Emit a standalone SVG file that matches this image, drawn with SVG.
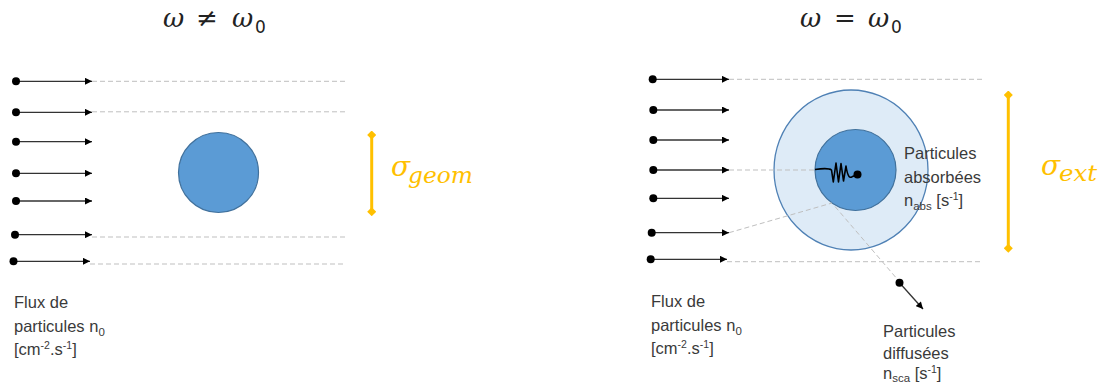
<svg xmlns="http://www.w3.org/2000/svg" width="1104" height="385" viewBox="0 0 1104 385">
<defs>
<marker id="ah" viewBox="0 0 10 10" refX="10" refY="5" markerWidth="8" markerHeight="7" markerUnits="userSpaceOnUse" orient="auto">
<path d="M0,0 L10,5 L0,10 Z" fill="#000"/>
</marker>
<marker id="dia" viewBox="0 0 10 10" refX="5" refY="5" markerWidth="9" markerHeight="9" markerUnits="userSpaceOnUse" orient="auto">
<path d="M0,5 L5,0 L10,5 L5,10 Z" fill="#FFC000"/>
</marker>
<style>
.arr{stroke:#333;stroke-width:1.3;fill:none;marker-end:url(#ah)}
.dot{fill:#000}
.dash{stroke:#BFBFBF;stroke-width:1;stroke-dasharray:5 3;fill:none}
.ora{stroke:#FFC000;stroke-width:3;marker-start:url(#dia);marker-end:url(#dia)}
.lbl{font-family:"Liberation Sans",Arial,sans-serif;font-size:16.5px;fill:#3A3A3A}
.math{font-family:"DejaVu Serif","Liberation Serif",serif;fill:#222}
.sig{font-family:"DejaVu Serif","Liberation Serif",serif;font-style:italic;fill:#FFC000}
</style>
</defs>
<rect width="1104" height="385" fill="#fff"/>

<g id="titles">
<text class="math" font-size="26"><tspan x="163" y="27" font-style="italic">ω</tspan><tspan x="196" y="27">≠</tspan><tspan x="232" y="27" font-style="italic">ω</tspan><tspan x="255" y="33" font-size="17" font-family="DejaVu Sans, sans-serif">0</tspan></text>
<text class="math" font-size="26"><tspan x="800" y="27" font-style="italic">ω</tspan><tspan x="834" y="27">=</tspan><tspan x="868" y="27" font-style="italic">ω</tspan><tspan x="891" y="33" font-size="17" font-family="DejaVu Sans, sans-serif">0</tspan></text>
</g>

<g id="particle-geom">
<circle cx="218.5" cy="172.5" r="40" fill="#5B9BD5" stroke="#41719C" stroke-width="1.2"/>
</g>

<g id="particle-ext">
<ellipse cx="851" cy="170" rx="77" ry="80" fill="#DEEBF7" stroke="#4F81B5" stroke-width="1.3"/>
<circle cx="855.5" cy="170" r="40.5" fill="#5B9BD5" stroke="#41719C" stroke-width="1.2"/>
</g>

<g id="connectors">
<line class="dash" x1="92" y1="81.3" x2="345" y2="81.3"/>
<line class="dash" x1="92" y1="111.8" x2="345" y2="111.8"/>
<line class="dash" x1="92" y1="237" x2="345" y2="237"/>
<line class="dash" x1="90" y1="264" x2="345" y2="264"/>
<line class="arr" x1="16" y1="81.3" x2="92" y2="81.3"/>
<line class="arr" x1="16" y1="112.3" x2="92" y2="112.3"/>
<line class="arr" x1="16" y1="141.7" x2="92" y2="141.7"/>
<line class="arr" x1="16" y1="173.3" x2="92" y2="173.3"/>
<line class="arr" x1="16" y1="201" x2="92" y2="201"/>
<line class="arr" x1="15" y1="234.7" x2="92" y2="234.7"/>
<line class="arr" x1="13.5" y1="261.3" x2="90" y2="261.3"/>
<circle class="dot" cx="16" cy="81.3" r="4"/>
<circle class="dot" cx="16" cy="112.3" r="4"/>
<circle class="dot" cx="16" cy="141.7" r="4"/>
<circle class="dot" cx="16" cy="173.3" r="4"/>
<circle class="dot" cx="16" cy="201" r="4"/>
<circle class="dot" cx="15" cy="234.7" r="4"/>
<circle class="dot" cx="13.5" cy="261.3" r="4"/>

<line class="dash" x1="729" y1="79.3" x2="982" y2="79.3"/>
<line class="dash" x1="727" y1="261.7" x2="982" y2="261.7"/>
<line class="dash" x1="729" y1="170" x2="815" y2="170"/>
<line class="dash" x1="729" y1="232.7" x2="832" y2="203"/>
<line class="dash" x1="835" y1="206.5" x2="898" y2="280"/>
<line class="arr" x1="652.7" y1="79.3" x2="729" y2="79.3"/>
<line class="arr" x1="653.3" y1="110" x2="729" y2="110"/>
<line class="arr" x1="653.3" y1="140" x2="729" y2="140"/>
<line class="arr" x1="653.3" y1="170" x2="729" y2="170"/>
<line class="arr" x1="653.3" y1="198.3" x2="729" y2="198.3"/>
<line class="arr" x1="651.7" y1="232.7" x2="729" y2="232.7"/>
<line class="arr" x1="650.7" y1="259.3" x2="727" y2="259.3"/>
<circle class="dot" cx="652.7" cy="79.3" r="4"/>
<circle class="dot" cx="653.3" cy="110" r="4"/>
<circle class="dot" cx="653.3" cy="140" r="4"/>
<circle class="dot" cx="653.3" cy="170" r="4"/>
<circle class="dot" cx="653.3" cy="198.3" r="4"/>
<circle class="dot" cx="651.7" cy="232.7" r="4"/>
<circle class="dot" cx="650.7" cy="259.3" r="4"/>

<path d="M815,169.5 C822,168.5 829,168 831.5,170 L833.3,182 L836,163 L838.5,182 L841,163.5 L843.5,181 L846,166 C847.5,176 849.5,178.5 852,176.8 L857.5,174.5" fill="none" stroke="#000" stroke-width="1.6" stroke-linejoin="round"/>
<circle class="dot" cx="857.5" cy="174.5" r="4"/>

<line class="arr" x1="899.5" y1="282.7" x2="923" y2="309"/>
<circle class="dot" cx="899.5" cy="282.7" r="4"/>

<line class="ora" x1="371.7" y1="135" x2="371.7" y2="211.7"/>
<line class="ora" x1="1008.3" y1="95" x2="1008.3" y2="248.3"/>
</g>

<g id="sigma-labels">
<text class="sig" x="391" y="176" font-size="28">σ</text>
<text class="sig" x="408" y="183" font-size="22" textLength="65" lengthAdjust="spacingAndGlyphs">geom</text>
<text class="sig" x="1041" y="175" font-size="28">σ</text>
<text class="sig" x="1059" y="181" font-size="22" textLength="38" lengthAdjust="spacingAndGlyphs">ext</text>
</g>

<g id="label-flux-left">
<text class="lbl" x="14" y="308">Flux de</text>
<text class="lbl" x="14" y="331.5">particules n<tspan font-size="11.5" dy="4">0</tspan></text>
<text class="lbl" x="14" y="355">[cm<tspan font-size="10.5" dy="-6">-2</tspan><tspan dy="6">.s</tspan><tspan font-size="10.5" dy="-6">-1</tspan><tspan dy="6">]</tspan></text>
</g>

<g id="label-flux-right">
<text class="lbl" x="651" y="307">Flux de</text>
<text class="lbl" x="651" y="330.5">particules n<tspan font-size="11.5" dy="4">0</tspan></text>
<text class="lbl" x="651" y="354">[cm<tspan font-size="10.5" dy="-6">-2</tspan><tspan dy="6">.s</tspan><tspan font-size="10.5" dy="-6">-1</tspan><tspan dy="6">]</tspan></text>
</g>

<g id="label-absorbed">
<text class="lbl" x="904" y="159">Particules</text>
<text class="lbl" x="904" y="182.5">absorbées</text>
<text class="lbl" x="904" y="206">n<tspan font-size="11.5" dy="4">abs</tspan><tspan dy="-4"> [s</tspan><tspan font-size="10.5" dy="-6">-1</tspan><tspan dy="6">]</tspan></text>
</g>

<g id="label-scattered">
<text class="lbl" x="883" y="337">Particules</text>
<text class="lbl" x="883" y="358.5">diffusées</text>
<text class="lbl" x="883" y="379">n<tspan font-size="11.5" dy="3">sca</tspan><tspan dy="-3"> [s</tspan><tspan font-size="10.5" dy="-6">-1</tspan><tspan dy="6">]</tspan></text>
</g>
</svg>
